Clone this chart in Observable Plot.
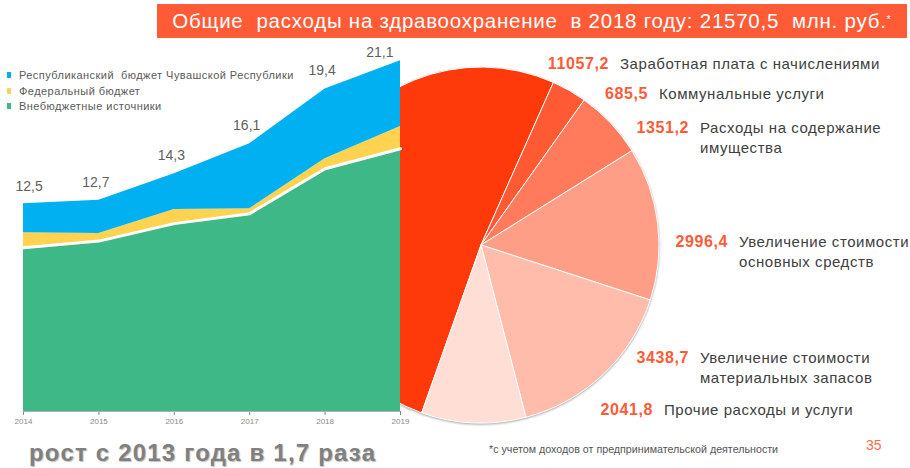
<!DOCTYPE html>
<html>
<head>
<meta charset="utf-8">
<script src="https://cdn.jsdelivr.net/npm/d3@7"></script>
<script src="https://cdn.jsdelivr.net/npm/@observablehq/plot@0.6"></script>
<style>
  body { margin: 0; background: #fff; }
  #wrap { position: relative; width: 910px; height: 468px; overflow: hidden; font-family: "Liberation Sans", Arial, sans-serif; }
  #chart { position: absolute; left: 0; top: 0; }
  .banner { position: absolute; left: 157px; top: 4px; width: 750px; height: 34px; background: #ff5b37; color: #fff;
            font-size: 20.5px; letter-spacing: 0.75px; display: flex; align-items: center; justify-content: center; white-space: pre; }
  .banner sup { font-size: 11px; position: relative; top: -2px; }
  .legend { position: absolute; left: 7px; font-size: 11px; letter-spacing: 0.45px; color: #5a5a5a; white-space: pre; display: flex; align-items: center; }
  .legend i { display: inline-block; width: 4px; height: 6px; margin-right: 8px; }
  .plabel { position: absolute; font-size: 15px; letter-spacing: 0.55px; color: #404040; white-space: nowrap; line-height: 20px; }
  .plabel b { color: #ff5b37; margin-right: 11px; position: absolute; text-align: right; font-size: 16px; letter-spacing: 0.6px; }
  .growth { position: absolute; left: 29px; top: 439px; font-size: 24px; letter-spacing: 1.2px; font-weight: bold; color: #808080; text-shadow: 1px 1px 1px rgba(0,0,0,0.25); white-space: pre; }
  .foot { position: absolute; left: 489px; top: 443px; font-size: 10.7px; color: #555; white-space: nowrap; }
  .page { position: absolute; left: 866px; top: 437px; font-size: 14px; color: #ff6a4d; }
</style>
</head>
<body>
<div id="wrap">
  <div id="chart"></div>
</div>
<script>
// ---- data ----
const years = [2014, 2015, 2016, 2017, 2018, 2019];
const seriesNames = ["Республиканский  бюджет Чувашской Республики", "Федеральный бюджет", "Внебюджетные источники"];
const extraBudget = [9.85, 10.25, 11.3, 11.9, 14.6, 15.8];
const federal = [0.9, 0.45, 0.85, 0.3, 0.6, 1.35];
const republic = [1.75, 2.0, 2.15, 3.9, 4.2, 3.95];
const totals = [12.5, 12.7, 14.3, 16.1, 19.4, 21.1];
const totalLabels = ["12,5", "12,7", "14,3", "16,1", "19,4", "21,1"];

const pieNames = [
  ["Заработная плата с начислениями"],
  ["Коммунальные  услуги"],
  ["Расходы  на  содержание", "имущества"],
  ["Увеличение  стоимости", "основных  средств"],
  ["Увеличение  стоимости", "материальных  запасов"],
  ["Прочие расходы и услуги"]
];
const pieValues = [11057.2, 685.5, 1351.2, 2996.4, 3438.7, 2041.8];
const pieValueLabels = ["11057,2", "685,5", "1351,2", "2996,4", "3438,7", "2041,8"];

const titleText = "Общие  расходы на здравоохранение  в 2018 году: 21570,5  млн. руб.";
const growthText = "рост с 2013 года в 1,7 раза";
const footText = "*с учетом доходов от предпринимательской деятельности";
const pageText = "35";

// ---- styles / layout ----
const areaColors = ["#00b0f0", "#ffd24f", "#3db886"];
const pieColors = ["#ff3a0a", "#ff5a34", "#ff7b5c", "#ff9e86", "#ffbcaa", "#ffded5"];
const pieCenter = [481, 245], pieRadius = 178, pieBoundaryDeg = 24;
const labelLayout = [ // [numberRightEdge, top]
  [608, 54], [647, 84], [688, 118], [727, 232], [688, 348], [652, 400]
];

// ---- build table ----
const long = [];
years.forEach((y, i) => {
  long.push({year: y, series: seriesNames[2], value: extraBudget[i]});
  long.push({year: y, series: seriesNames[1], value: federal[i]});
  long.push({year: y, series: seriesNames[0], value: republic[i]});
});
const rows = years.map((y, i) => ({year: y, total: totals[i], label: totalLabels[i], green: extraBudget[i]}));

function pieMark(index, scales, values, dimensions) {
  const g = d3.create("svg:g");
  const xClip = scales.x(years[years.length - 1]);
  g.append("clipPath").attr("id", "pieclip").append("rect")
    .attr("x", xClip).attr("y", 0).attr("width", dimensions.width - xClip).attr("height", dimensions.height);
  const sum = d3.sum(pieValues);
  const start = pieBoundaryDeg * Math.PI / 180 - pieValues[0] / sum * 2 * Math.PI;
  const arcs = d3.pie().sort(null).startAngle(start).endAngle(start + 2 * Math.PI)(pieValues);
  const arc = d3.arc().innerRadius(0).outerRadius(pieRadius);
  const inner = g.append("g").attr("clip-path", "url(#pieclip)")
    .append("g").attr("transform", `translate(${pieCenter[0]},${pieCenter[1]})`)
    .style("filter", "drop-shadow(0px 1px 1px rgba(0,0,0,0.35))");
  inner.selectAll("path").data(arcs).join("path")
    .attr("d", arc).attr("fill", (d, i) => pieColors[i])
    .attr("stroke", "#fff").attr("stroke-width", 1);
  return g.node();
}

const plot = Plot.plot({
  width: 910,
  height: 468,
  marginLeft: 23,
  marginRight: 510,
  marginTop: 12,
  marginBottom: 57,
  style: {fontFamily: "Liberation Sans, Arial, sans-serif", fontSize: "8px", color: "#8a8a8a", background: "transparent"},
  x: {domain: [2014, 2019], ticks: 6, tickFormat: "d", tickSize: 4, label: null, tickPadding: 3},
  y: {domain: [0, 24], axis: null},
  color: {domain: seriesNames, range: areaColors},
  marks: [
    pieMark,
    Plot.areaY(long, {x: "year", y: "value", fill: "series", order: [seriesNames[2], seriesNames[1], seriesNames[0]]}),
    Plot.lineY(rows, {x: "year", y: "green", stroke: "#fff", strokeWidth: 3}),
    Plot.ruleY([0], {stroke: "#b0b0b0"}),
    Plot.text(rows.slice(0, 1), {x: "year", y: "total", text: "label", textAnchor: "start", dx: -8, dy: -17, fontSize: 14, fill: "#5f5f5f"}),
    Plot.text(rows.slice(1, 5), {x: "year", y: "total", text: "label", dx: -3, dy: -18, fontSize: 14, fill: "#5f5f5f"}),
    Plot.text(rows.slice(5), {x: "year", y: "total", text: "label", textAnchor: "end", dx: -7, dy: -8, fontSize: 14, fill: "#5f5f5f"})
  ]
});
document.getElementById("chart").appendChild(plot);

const wrap = document.getElementById("wrap");
function add(html, cls, css) {
  const d = document.createElement("div");
  d.className = cls; d.innerHTML = html;
  if (css) Object.assign(d.style, css);
  wrap.appendChild(d); return d;
}
add(titleText + "<sup>*</sup>", "banner");
const legendTops = [69, 85, 100];
seriesNames.forEach((n, i) => add(`<i style="background:${areaColors[i]}"></i>${n}`, "legend", {top: legendTops[i] + "px"}));
pieNames.forEach((lines, i) => {
  const [xr, top] = labelLayout[i];
  const d = add(lines.join("<br>"), "plabel", {left: (xr + 12) + "px", top: top + "px"});
  const b = document.createElement("b");
  b.textContent = pieValueLabels[i];
  b.style.right = "100%"; b.style.top = "0px";
  d.appendChild(b);
});
add(growthText, "growth");
add(footText, "foot");
add(pageText, "page");
</script>
</body>
</html>
